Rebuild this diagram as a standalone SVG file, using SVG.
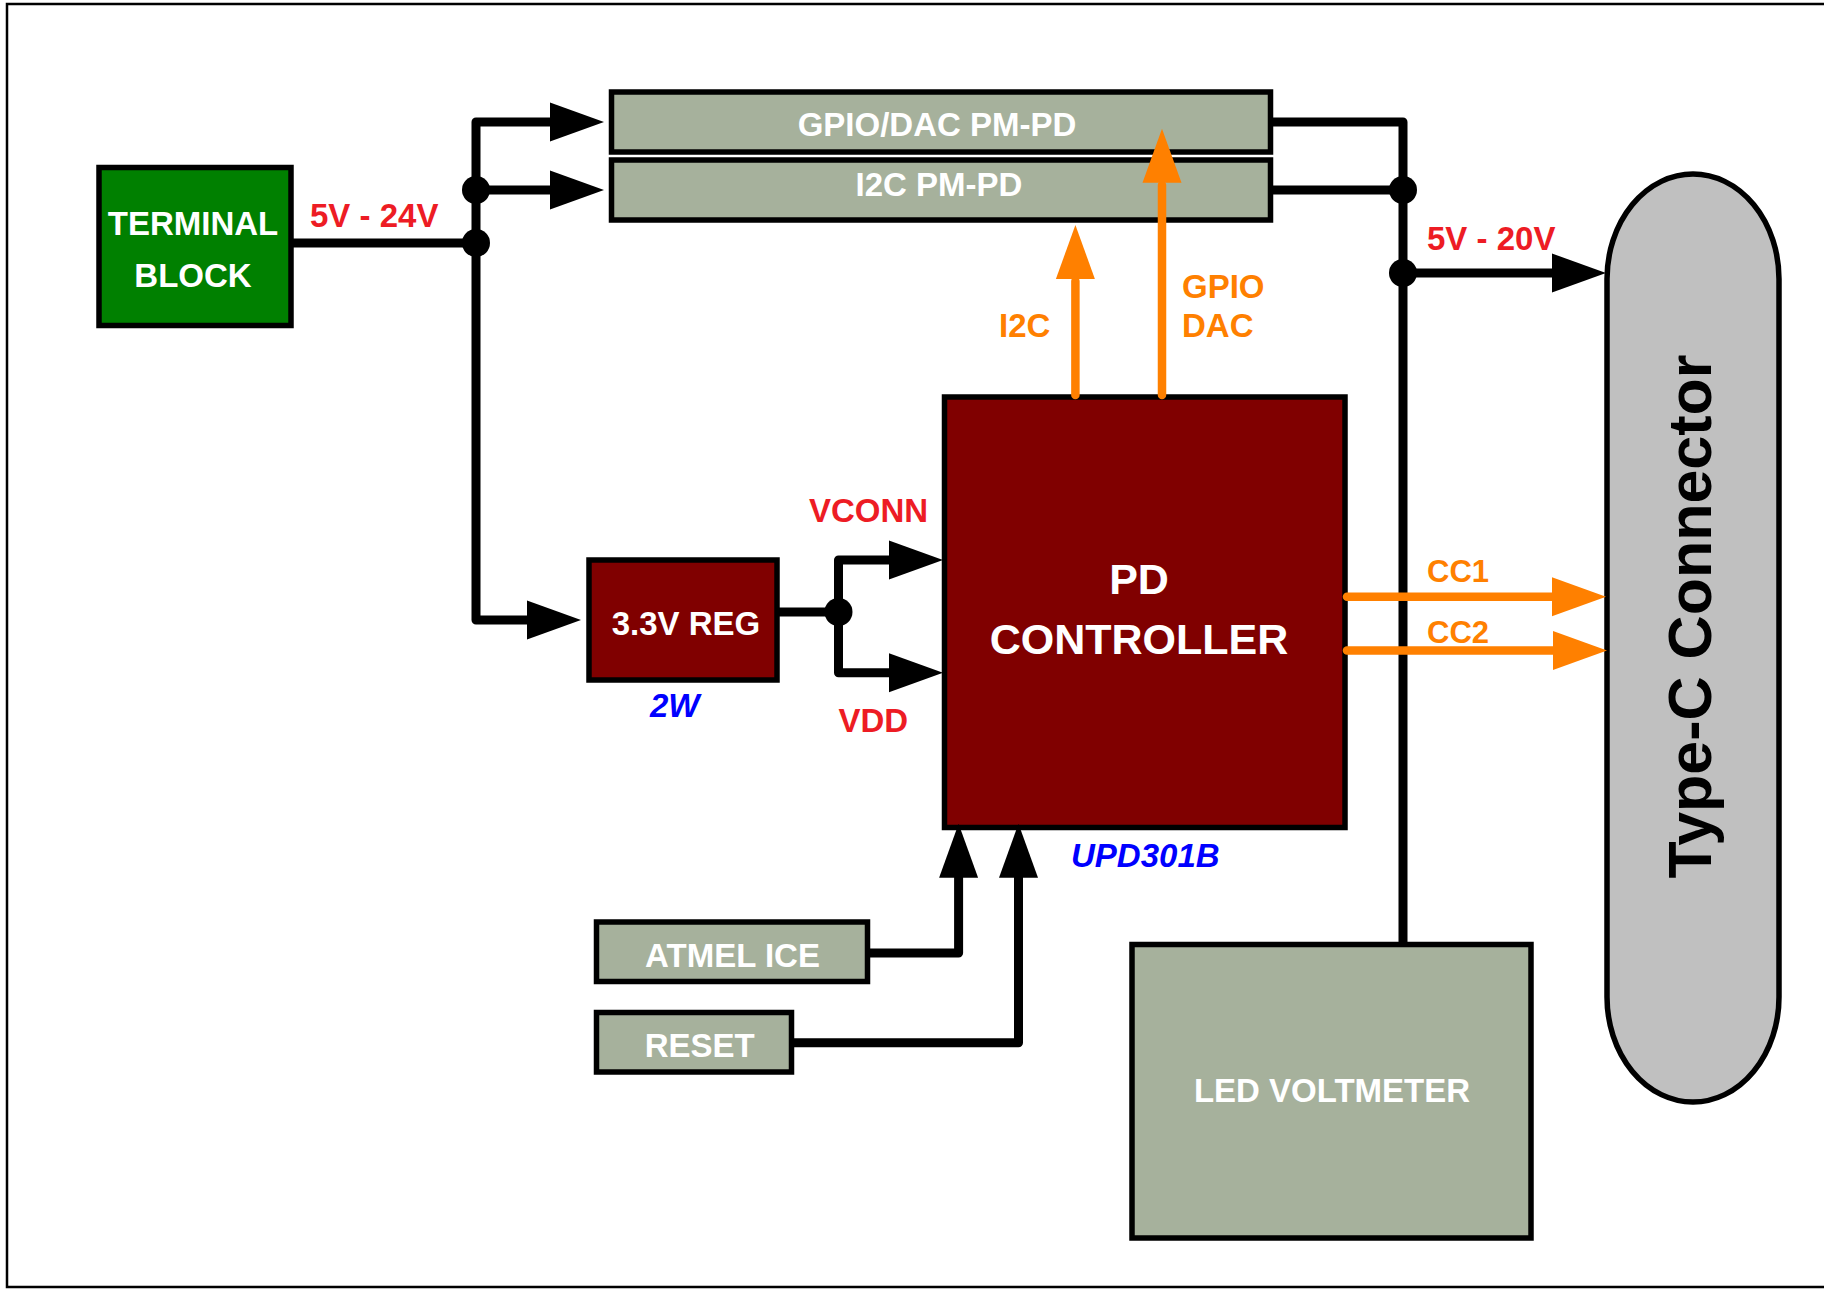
<svg xmlns="http://www.w3.org/2000/svg" xmlns:xlink="http://www.w3.org/1999/xlink" width="1824" height="1289" viewBox="0 0 1824 1289">
<style>
.box{stroke:#000;stroke-width:5.5}
.sage{fill:#A6B19C}
.wt{fill:#fff;font-family:"Liberation Sans",Arial,sans-serif;font-weight:bold;font-size:33px;text-anchor:middle}
.lbl{font-family:"Liberation Sans",Arial,sans-serif;font-weight:bold;font-size:33px}
.red{fill:#ED1C24}
.org{fill:#FF8000}
.blue{fill:#0000FF;font-style:italic}
.wire{fill:none;stroke:#000;stroke-width:9;stroke-linejoin:round}
.owire{fill:none;stroke:#FF8000;stroke-width:8.5;stroke-linecap:round}
.dot{fill:#000}
</style>
<defs>
<path id="ah" d="M0,-19.5 L54,0 L0,19.5 Z"/>
</defs>
<rect width="1824" height="1289" fill="#fff"/>
<path d="M1824,4 H7 V1287 H1824" fill="none" stroke="#000" stroke-width="2.5"/>

<g id="terminal-block">
<rect class="box" x="99" y="167.5" width="192" height="158" fill="#008000"/>
<text class="wt" x="193" y="235">TERMINAL</text>
<text class="wt" x="193" y="287">BLOCK</text>
</g>

<g id="gpio-dac-pm-pd">
<rect class="box sage" x="611.5" y="92" width="659" height="60"/>
<text class="wt" x="937" y="136">GPIO/DAC PM-PD</text>
</g>

<g id="i2c-pm-pd">
<rect class="box sage" x="611.5" y="160" width="659" height="60"/>
<text class="wt" x="939" y="196">I2C PM-PD</text>
</g>

<g id="reg">
<rect class="box" x="589" y="560" width="188" height="120" fill="#800000"/>
<text class="wt" x="686" y="635">3.3V REG</text>
</g>

<g id="pd-controller">
<rect class="box" x="944.5" y="397" width="400.5" height="430.5" fill="#800000"/>
<text class="wt" x="1139" y="594" style="font-size:43px">PD</text>
<text class="wt" x="1139" y="654" style="font-size:43px">CONTROLLER</text>
</g>

<g id="atmel-ice">
<rect class="box sage" x="596.5" y="922" width="271" height="59.5"/>
<text class="wt" x="732.5" y="966.7">ATMEL ICE</text>
</g>

<g id="reset">
<rect class="box sage" x="596.5" y="1012.5" width="195" height="59.5"/>
<text class="wt" x="699.7" y="1056.7">RESET</text>
</g>

<g id="led-voltmeter">
<rect class="box sage" x="1132" y="944.5" width="399" height="293.5"/>
<text class="wt" x="1332" y="1101.7">LED VOLTMETER</text>
</g>

<g id="type-c-connector">
<rect class="box" x="1607" y="174" width="172" height="928" rx="86" ry="105" fill="#C0C0C0"/>
<text x="0" y="0" transform="translate(1711,616.5) rotate(-90)" style="font-family:'Liberation Sans',Arial,sans-serif;font-weight:bold;font-size:61px;text-anchor:middle;fill:#000">Type-C Connector</text>
</g>

<g id="connectors">
<path class="wire" d="M293,243 H476"/>
<path class="wire" d="M552,122 H476 V620 H530"/>
<path class="wire" d="M476,190 H552"/>
<path class="wire" d="M779,612 H838.5"/>
<path class="wire" d="M892,560 H838.5 V672.7 H892"/>
<path class="wire" d="M1273,122 H1403 V944"/>
<path class="wire" d="M1273,190 H1403"/>
<path class="wire" d="M1403,273 H1555"/>
<path class="wire" d="M870,953 H958.6 V875"/>
<path class="wire" d="M794,1042.7 H1018.5 V875"/>
<circle class="dot" cx="476" cy="190" r="14"/>
<circle class="dot" cx="476" cy="243" r="14"/>
<circle class="dot" cx="838.5" cy="612" r="14"/>
<circle class="dot" cx="1403" cy="190" r="14"/>
<circle class="dot" cx="1403" cy="273" r="14"/>
<use xlink:href="#ah" transform="translate(550,122)"/>
<use xlink:href="#ah" transform="translate(550,190)"/>
<use xlink:href="#ah" transform="translate(527,620)"/>
<use xlink:href="#ah" transform="translate(889,560)"/>
<use xlink:href="#ah" transform="translate(889,672.7)"/>
<use xlink:href="#ah" transform="translate(1552,273)"/>
<use xlink:href="#ah" transform="translate(958.6,877.7) rotate(-90)"/>
<use xlink:href="#ah" transform="translate(1018.5,877.7) rotate(-90)"/>
<path class="owire" d="M1075.4,395 V281"/>
<path class="owire" d="M1162,395 V185"/>
<path class="owire" d="M1347,596.7 H1555"/>
<path class="owire" d="M1347,650.5 H1555"/>
<use xlink:href="#ah" fill="#FF8000" transform="translate(1075.4,279) rotate(-90)"/>
<use xlink:href="#ah" fill="#FF8000" transform="translate(1162,182.7) rotate(-90)"/>
<use xlink:href="#ah" fill="#FF8000" transform="translate(1552,596.7)"/>
<use xlink:href="#ah" fill="#FF8000" transform="translate(1553,650.5)"/>
</g>

<g id="labels">
<text class="lbl red" x="310" y="226.7">5V - 24V</text>
<text class="lbl red" x="1427" y="250">5V - 20V</text>
<text class="lbl org" x="999" y="337">I2C</text>
<text class="lbl org" x="1182" y="298">GPIO</text>
<text class="lbl org" x="1182" y="337">DAC</text>
<text class="lbl red" x="809" y="522">VCONN</text>
<text class="lbl red" x="838.5" y="732">VDD</text>
<text class="lbl blue" x="650" y="717">2W</text>
<text class="lbl blue" x="1071" y="867">UPD301B</text>
<text class="lbl org" x="1427" y="582" style="font-size:31px">CC1</text>
<text class="lbl org" x="1427" y="643" style="font-size:31px">CC2</text>
</g>
</svg>
